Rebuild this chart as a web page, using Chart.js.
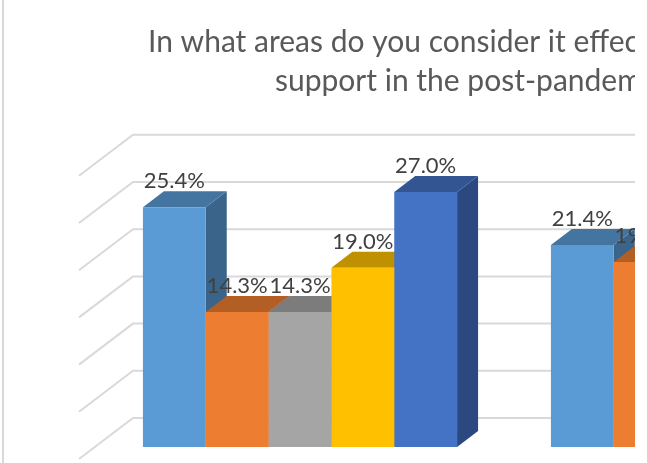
<html>
<head>
<meta http-equiv="content-type" content="text/html; charset=UTF-8" />
<script src="https://cdn.jsdelivr.net/npm/chart.js@4/dist/chart.umd.js"></script>
<style>
	body { margin: 0; background: #fff; }
	#frame { position: absolute; left: 2px; top: 0; width: 2px; height: 463px; background: #d9d9d9; }
	#wrap { position: absolute; left: 0; top: 0; width: 635px; height: 463px; overflow: hidden; }
</style>
</head>
<body>
<div id="wrap"><canvas id="chart" width="920" height="463"></canvas></div>
<div id="frame"></div>
<script>
	// the picture is cut off on the right, second group only shows two bars
	var categories = ['Group 1', 'Group 2'];
	var seriesNames = ['Series 1', 'Series 2', 'Series 3', 'Series 4', 'Series 5'];
	var series1 = [25.4, 21.4];
	var series2 = [14.3, 19.6];
	var series3 = [14.3, null];
	var series4 = [19.0, null];
	var series5 = [27.0, null];
	var yTicks = [0, 5, 10, 15, 20, 25, 30];
	var titleLines = ['In what areas do you consider it effective', 'support in the post-pandemic'];

	var frontColors = ['#5b9bd5', '#ed7d31', '#a5a5a5', '#ffc000', '#4472c4'];
	var topColors = ['#4475a0', '#b25e25', '#7c7c7c', '#bf9000', '#335693'];
	var sideColors = ['#3a648a', '#9a5020', '#6a6a6a', '#a47c00', '#2b4880'];

	var depthX = 21, depthY = 16;

	function poly(ctx, pts, color) {
		ctx.fillStyle = color;
		ctx.beginPath();
		ctx.moveTo(pts[0][0], pts[0][1]);
		for (var i = 1; i < pts.length; i++) ctx.lineTo(pts[i][0], pts[i][1]);
		ctx.closePath();
		ctx.fill();
	}

	var walls3d = {
		id: 'walls3d',
		beforeDatasetsDraw: function(chart) {
			var ctx = chart.ctx, y = chart.scales.y;
			ctx.save();
			// gridlines on side wall and back wall
			ctx.strokeStyle = '#d9d9d9';
			ctx.lineWidth = 2;
			yTicks.forEach(function(t) {
				var py = y.getPixelForValue(t);
				ctx.beginPath();
				ctx.moveTo(79, py + 12);
				ctx.lineTo(133, py - 29);
				ctx.lineTo(chart.width, py - 29);
				ctx.stroke();
			});
			// side and top faces, left to right, fronts come after from chart.js
			var zero = y.getPixelForValue(0);
			chart.data.datasets.forEach(function(ds, i) {
				chart.getDatasetMeta(i).data.forEach(function(bar, j) {
					if (ds.data[j] === null) return;
					var l = bar.x - bar.width / 2, r = bar.x + bar.width / 2, t = bar.y;
					poly(ctx, [[r, t], [r + depthX, t - depthY], [r + depthX, zero - depthY], [r, zero]], sideColors[i]);
					poly(ctx, [[l, t], [r, t], [r + depthX, t - depthY], [l + depthX, t - depthY]], topColors[i]);
				});
			});
			ctx.restore();
		},
		afterDatasetsDraw: function(chart) {
			var ctx = chart.ctx;
			ctx.save();
			ctx.font = '22px Lato';
			ctx.fillStyle = '#404040';
			ctx.textAlign = 'center';
			ctx.textBaseline = 'alphabetic';
			chart.data.datasets.forEach(function(ds, i) {
				chart.getDatasetMeta(i).data.forEach(function(bar, j) {
					if (ds.data[j] === null) return;
					ctx.fillText(ds.data[j].toFixed(1) + '%', bar.x, bar.y - depthY - 3);
				});
			});
			// title, lines are centred on a middle that is off the picture
			ctx.font = '30px Lato';
			ctx.fillStyle = '#595959';
			ctx.textAlign = 'left';
			ctx.fillText(titleLines[0], 148, 52);
			ctx.fillText(titleLines[1], 275, 91);
			ctx.restore();
		}
	};

	var datasets = [series1, series2, series3, series4, series5].map(function(values, i) {
		return { label: seriesNames[i], data: values, backgroundColor: frontColors[i] };
	});

	new Chart(document.getElementById('chart'), {
		type: 'bar',
		data: { labels: categories, datasets: datasets },
		plugins: [walls3d],
		options: {
			responsive: false,
			animation: false,
			layout: { padding: { left: 96, right: 8, top: 163.8, bottom: 16 } },
			datasets: { bar: { categoryPercentage: 0.77, barPercentage: 1 } },
			plugins: { legend: { display: false }, title: { display: false }, tooltip: { enabled: false } },
			scales: {
				x: { display: false },
				y: { display: false, min: 0, max: 30 }
			}
		}
	});
</script>
</body>
</html>
